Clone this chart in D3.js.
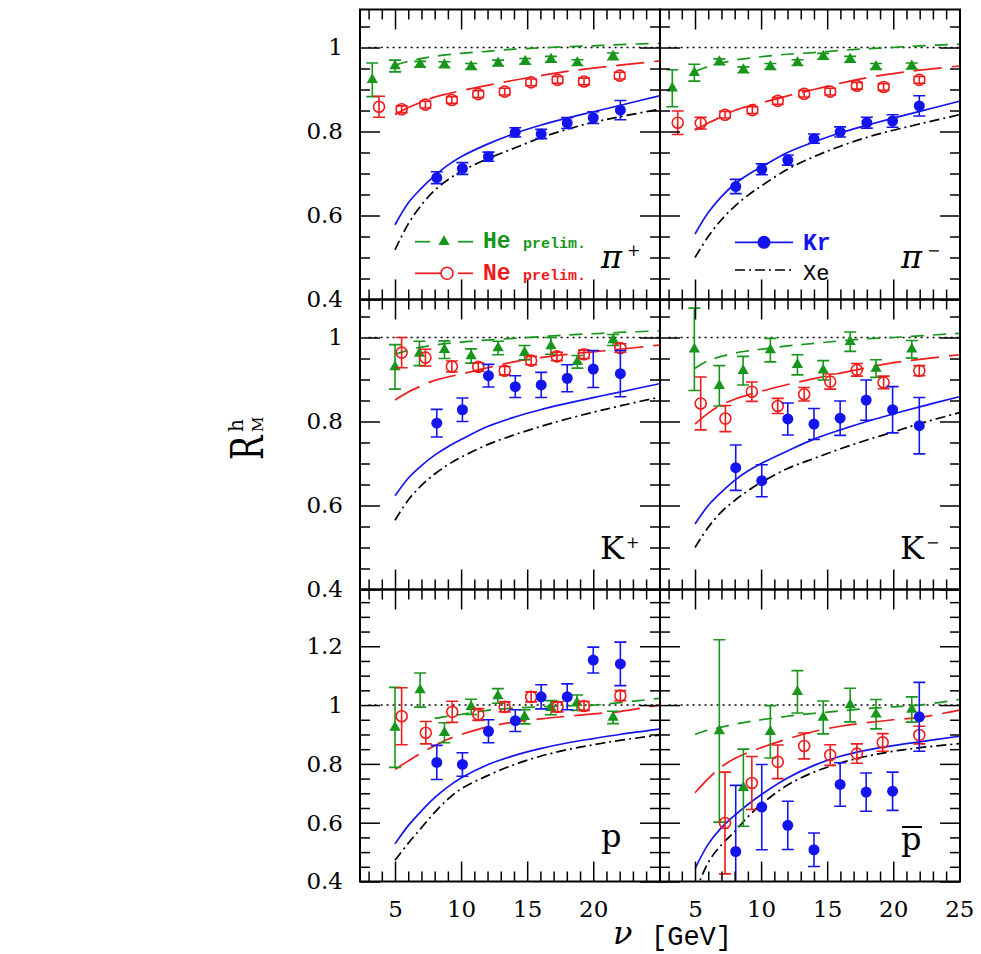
<!DOCTYPE html>
<html><head><meta charset="utf-8">
<script src="https://cdn.jsdelivr.net/npm/d3@7"></script>
<style>body{margin:0;background:#fff}</style>
</head><body>
<svg id="chart" width="981" height="954"></svg>
<script>
// ---------------- DATA ----------------
const nuGrid = [5, 6, 7, 8, 9, 10, 12, 14, 16, 18, 20, 22, 25];
const xTickLabels = [5, 10, 15, 20, 25];
const yTickLabels = [0.4, 0.6, 0.8, 1.0, 1.2];

// pi+
const pipHeNu = [3.28, 5.0, 6.9, 8.74, 10.76, 12.8, 14.85, 16.8, 18.8, 21.5];
const pipHe = [0.923, 0.956, 0.960, 0.959, 0.955, 0.963, 0.967, 0.972, 0.964, 0.979];
const pipHeErr = [0.040, 0.014, 0.007, 0.007, 0.007, 0.007, 0.007, 0.007, 0.007, 0.008];
const pipNeNu = [3.79, 5.5, 7.3, 9.3, 11.3, 13.3, 15.3, 17.3, 19.3, 22.0];
const pipNe = [0.859, 0.853, 0.864, 0.875, 0.889, 0.895, 0.917, 0.923, 0.919, 0.933];
const pipNeErr = [0.025, 0.008, 0.008, 0.008, 0.008, 0.008, 0.008, 0.008, 0.008, 0.008];
const pipKrNu = [8.16, 10.1, 12.07, 14.1, 16.06, 18.03, 20.0, 22.05];
const pipKr = [0.690, 0.712, 0.740, 0.798, 0.794, 0.820, 0.833, 0.851];
const pipKrErr = [0.014, 0.014, 0.011, 0.011, 0.011, 0.013, 0.014, 0.023];
const pipHeTh = [0.958, 0.967, 0.974, 0.979, 0.983, 0.986, 0.991, 0.996, 0.999, 1.002, 1.004, 1.007, 1.010];
const pipNeTh = [0.840, 0.857, 0.870, 0.882, 0.890, 0.897, 0.910, 0.922, 0.933, 0.943, 0.951, 0.958, 0.968];
const pipKrTh = [0.578, 0.630, 0.665, 0.695, 0.720, 0.740, 0.770, 0.795, 0.815, 0.832, 0.847, 0.862, 0.885];
const pipXeTh = [0.518, 0.580, 0.625, 0.660, 0.685, 0.705, 0.735, 0.760, 0.785, 0.805, 0.822, 0.835, 0.853];

// pi-
const pimHeNu = [3.28, 4.95, 6.84, 8.66, 10.7, 12.75, 14.7, 16.74, 18.69, 21.4];
const pimHe = [0.903, 0.940, 0.966, 0.947, 0.955, 0.964, 0.979, 0.972, 0.955, 0.956];
const pimHeErr = [0.044, 0.020, 0.007, 0.007, 0.007, 0.007, 0.007, 0.007, 0.007, 0.007];
const pimNeNu = [3.69, 5.43, 7.27, 9.34, 11.26, 13.26, 15.23, 17.25, 19.27, 21.97];
const pimNe = [0.821, 0.820, 0.840, 0.851, 0.873, 0.890, 0.895, 0.909, 0.906, 0.923];
const pimNeErr = [0.028, 0.014, 0.008, 0.008, 0.008, 0.008, 0.008, 0.008, 0.008, 0.008];
const pimKrNu = [8.08, 10.05, 12.02, 14.0, 15.98, 18.0, 19.95, 21.97];
const pimKr = [0.669, 0.710, 0.732, 0.783, 0.799, 0.821, 0.825, 0.861];
const pimKrErr = [0.017, 0.013, 0.012, 0.011, 0.012, 0.013, 0.015, 0.024];
const pimHeTh = [0.943, 0.955, 0.963, 0.970, 0.974, 0.978, 0.984, 0.988, 0.993, 0.997, 1.000, 1.004, 1.008];
const pimNeTh = [0.803, 0.820, 0.835, 0.850, 0.860, 0.868, 0.885, 0.900, 0.915, 0.928, 0.938, 0.946, 0.956];
const pimKrTh = [0.556, 0.607, 0.645, 0.675, 0.697, 0.715, 0.750, 0.775, 0.797, 0.815, 0.832, 0.848, 0.872];
const pimXeTh = [0.500, 0.550, 0.590, 0.622, 0.648, 0.670, 0.710, 0.740, 0.765, 0.786, 0.803, 0.818, 0.840];

// K+
const kpHeNu = [5.0, 6.85, 8.74, 10.76, 12.8, 14.8, 16.8, 18.8, 21.5];
const kpHe = [0.930, 0.962, 0.971, 0.956, 0.975, 0.964, 0.980, 0.942, 0.994];
const kpHeErr = [0.053, 0.029, 0.021, 0.017, 0.016, 0.017, 0.020, 0.015, 0.013];
const kpNeNu = [5.5, 7.3, 9.3, 11.3, 13.3, 15.3, 17.25, 19.3, 22.05];
const kpNe = [0.964, 0.952, 0.931, 0.930, 0.921, 0.945, 0.955, 0.960, 0.975];
const kpNeErr = [0.036, 0.020, 0.013, 0.010, 0.010, 0.010, 0.010, 0.010, 0.010];
const kpKrNu = [8.16, 10.1, 12.07, 14.1, 16.06, 18.03, 20.0, 22.05];
const kpKr = [0.796, 0.828, 0.909, 0.883, 0.887, 0.903, 0.925, 0.914];
const kpKrErr = [0.033, 0.028, 0.027, 0.026, 0.030, 0.032, 0.044, 0.055];
const kpHeTh = [0.960, 0.970, 0.977, 0.982, 0.986, 0.989, 0.994, 0.998, 1.002, 1.006, 1.009, 1.012, 1.016];
const kpNeTh = [0.851, 0.870, 0.885, 0.898, 0.906, 0.913, 0.928, 0.942, 0.952, 0.960, 0.966, 0.972, 0.982];
const kpKrTh = [0.623, 0.665, 0.695, 0.720, 0.740, 0.757, 0.788, 0.810, 0.828, 0.843, 0.857, 0.870, 0.890];
const kpXeTh = [0.565, 0.613, 0.648, 0.675, 0.697, 0.715, 0.745, 0.768, 0.788, 0.806, 0.822, 0.837, 0.858];

// K-
const kmHeNu = [4.95, 6.84, 8.64, 10.7, 12.75, 14.7, 16.74, 18.7, 21.4];
const kmHe = [0.972, 0.885, 0.921, 0.970, 0.935, 0.922, 0.990, 0.926, 0.972];
const kmHeErr = [0.098, 0.048, 0.034, 0.028, 0.024, 0.023, 0.023, 0.021, 0.021];
const kmNeNu = [5.43, 7.3, 9.3, 11.26, 13.26, 15.23, 17.25, 19.27, 21.97];
const kmNe = [0.843, 0.807, 0.871, 0.837, 0.865, 0.895, 0.923, 0.893, 0.921];
const kmNeErr = [0.063, 0.031, 0.023, 0.018, 0.016, 0.018, 0.015, 0.015, 0.012];
const kmKrNu = [8.08, 10.05, 12.02, 14.0, 15.98, 17.95, 19.95, 21.97];
const kmKr = [0.690, 0.659, 0.806, 0.794, 0.808, 0.851, 0.828, 0.790];
const kmKrErr = [0.054, 0.038, 0.038, 0.037, 0.041, 0.048, 0.055, 0.067];
const kmHeTh = [0.927, 0.945, 0.955, 0.963, 0.968, 0.972, 0.980, 0.986, 0.992, 0.997, 1.000, 1.004, 1.010];
const kmNeTh = [0.794, 0.820, 0.840, 0.853, 0.863, 0.872, 0.888, 0.902, 0.915, 0.928, 0.940, 0.948, 0.959];
const kmKrTh = [0.556, 0.600, 0.632, 0.660, 0.682, 0.700, 0.730, 0.758, 0.780, 0.800, 0.818, 0.835, 0.859];
const kmXeTh = [0.500, 0.548, 0.585, 0.612, 0.635, 0.655, 0.688, 0.712, 0.735, 0.756, 0.775, 0.795, 0.821];

// p
const pHeNu = [5.0, 6.9, 8.74, 10.76, 12.78, 14.8, 16.8, 18.77, 21.5];
const pHe = [0.924, 1.051, 0.906, 0.994, 1.031, 0.960, 0.991, 1.008, 0.958];
const pHeErr = [0.136, 0.058, 0.034, 0.026, 0.025, 0.024, 0.024, 0.026, 0.021];
const pNeNu = [5.5, 7.33, 9.33, 11.3, 13.3, 15.3, 17.3, 19.3, 22.05];
const pNe = [0.962, 0.906, 0.977, 0.968, 0.994, 1.028, 0.994, 0.997, 1.032];
const pNeErr = [0.097, 0.038, 0.036, 0.020, 0.017, 0.017, 0.017, 0.015, 0.017];
const pKrNu = [8.16, 10.1, 12.07, 14.1, 16.06, 18.03, 20.0, 22.05];
const pKr = [0.805, 0.798, 0.911, 0.947, 1.028, 1.028, 1.153, 1.140];
const pKrErr = [0.058, 0.040, 0.039, 0.037, 0.041, 0.044, 0.044, 0.074];
const pHeTh = [null, null, null, 0.955, 0.962, 0.968, 0.982, 0.990, 0.994, 0.997, 1.000, 1.008, 1.023];
const pNeTh = [0.781, 0.810, 0.837, 0.862, 0.884, 0.900, 0.926, 0.942, 0.953, 0.962, 0.970, 0.978, 1.000];
const pKrTh = [0.528, 0.590, 0.640, 0.685, 0.722, 0.752, 0.797, 0.828, 0.852, 0.871, 0.886, 0.900, 0.918];
const pXeTh = [0.472, 0.530, 0.583, 0.635, 0.680, 0.715, 0.760, 0.797, 0.826, 0.848, 0.865, 0.880, 0.898];

// p-bar
const pbHeNu = [6.84, 8.66, 10.7, 12.75, 14.7, 16.74, 18.7, 21.4];
const pbHe = [0.912, 0.719, 0.909, 1.045, 0.958, 1.000, 0.969, 0.985];
const pbHeErr = [0.310, 0.131, 0.089, 0.072, 0.056, 0.057, 0.050, 0.043];
const pbNeNu = [7.27, 9.3, 11.26, 13.26, 15.23, 17.25, 19.2, 21.97];
const pbNe = [0.599, 0.735, 0.807, 0.861, 0.830, 0.835, 0.873, 0.898];
const pbNeErr = [0.173, 0.090, 0.057, 0.044, 0.035, 0.033, 0.030, 0.030];
const pbKrNu = [8.08, 10.05, 12.02, 14.0, 15.98, 17.95, 19.95, 21.97];
const pbKr = [0.502, 0.653, 0.591, 0.508, 0.730, 0.704, 0.707, 0.960];
const pbKrErr = [0.225, 0.145, 0.082, 0.057, 0.074, 0.065, 0.065, 0.117];
const pbHeTh = [0.900, 0.915, 0.925, 0.935, 0.943, 0.950, 0.962, 0.972, 0.980, 0.988, 0.994, 1.000, 1.019];
const pbNeTh = [0.702, 0.750, 0.790, 0.818, 0.838, 0.855, 0.885, 0.910, 0.928, 0.940, 0.950, 0.958, 0.983];
const pbKrTh = [0.443, 0.527, 0.583, 0.625, 0.662, 0.695, 0.752, 0.795, 0.826, 0.847, 0.862, 0.875, 0.894];
const pbXeTh = [0.360, 0.465, 0.525, 0.570, 0.620, 0.662, 0.728, 0.772, 0.803, 0.826, 0.843, 0.855, 0.869];

// ---------------- LAYOUT ----------------
const colX = [360, 660];
const panelW = 300;
const rowY = [9.5, 299.5, 589.5];
const rowH = [290, 290, 292];
const yDomains = [[0.4, 1.0905], [0.4, 1.0905], [0.4, 1.393]];
const xDomain = [2.35, 25.05];

const cHe = "#17961b", cNe = "#ee1c1c", cKr = "#1414ee", cXe = "#000";

const panels = [
  {id:"pip", row:0, col:0, he:[pipHeNu,pipHe,pipHeErr], ne:[pipNeNu,pipNe,pipNeErr], kr:[pipKrNu,pipKr,pipKrErr], th:[pipHeTh,pipNeTh,pipKrTh,pipXeTh]},
  {id:"pim", row:0, col:1, he:[pimHeNu,pimHe,pimHeErr], ne:[pimNeNu,pimNe,pimNeErr], kr:[pimKrNu,pimKr,pimKrErr], th:[pimHeTh,pimNeTh,pimKrTh,pimXeTh]},
  {id:"kp", row:1, col:0, he:[kpHeNu,kpHe,kpHeErr], ne:[kpNeNu,kpNe,kpNeErr], kr:[kpKrNu,kpKr,kpKrErr], th:[kpHeTh,kpNeTh,kpKrTh,kpXeTh]},
  {id:"km", row:1, col:1, he:[kmHeNu,kmHe,kmHeErr], ne:[kmNeNu,kmNe,kmNeErr], kr:[kmKrNu,kmKr,kmKrErr], th:[kmHeTh,kmNeTh,kmKrTh,kmXeTh]},
  {id:"p", row:2, col:0, he:[pHeNu,pHe,pHeErr], ne:[pNeNu,pNe,pNeErr], kr:[pKrNu,pKr,pKrErr], th:[pHeTh,pNeTh,pKrTh,pXeTh]},
  {id:"pb", row:2, col:1, he:[pbHeNu,pbHe,pbHeErr], ne:[pbNeNu,pbNe,pbNeErr], kr:[pbKrNu,pbKr,pbKrErr], th:[pbHeTh,pbNeTh,pbKrTh,pbXeTh]}
];

const svg = d3.select("#chart");
const defs = svg.append("defs");
const fmt = v => String(Math.round(v * 10) / 10);

const curveStyles = [
  {color:cHe, dash:"13,9"},
  {color:cNe, dash:"28,10"},
  {color:cKr, dash:null},
  {color:cXe, dash:"10,4,2,4"}
];

panels.forEach(p => {
  const x0 = colX[p.col], y0 = rowY[p.row], h = rowH[p.row];
  const x = d3.scaleLinear().domain(xDomain).range([x0, x0 + panelW]);
  const y = d3.scaleLinear().domain(yDomains[p.row]).range([y0 + h, y0]);

  defs.append("clipPath").attr("id", "clip-" + p.id)
    .append("rect").attr("x", x0).attr("y", y0).attr("width", panelW).attr("height", h);
  const g = svg.append("g").attr("clip-path", `url(#clip-${p.id})`);

  // dotted unity line
  g.append("line").attr("x1", x(3)).attr("x2", x(25.05)).attr("y1", y(1)).attr("y2", y(1))
    .attr("stroke", "#000").attr("stroke-width", 1.5).attr("stroke-dasharray", "2,4");

  // theory curves
  p.th.forEach((vals, i) => {
    const line = d3.line().defined(d => d[1] != null)
      .x(d => x(d[0])).y(d => y(d[1])).curve(d3.curveCatmullRom.alpha(0.5));
    const path = g.append("path").datum(nuGrid.map((n, k) => [n, vals[k]]))
      .attr("d", line).attr("fill", "none")
      .attr("stroke", curveStyles[i].color).attr("stroke-width", 1.7);
    if (curveStyles[i].dash) path.attr("stroke-dasharray", curveStyles[i].dash);
  });

  // error bars + markers
  const series = [[p.he, cHe, "tri"], [p.ne, cNe, "open"], [p.kr, cKr, "dot"]];
  series.forEach(([arr, col, kind]) => {
    const [nu, v, e] = arr;
    nu.forEach((n, k) => {
      const cx = x(n), lo = y(v[k] - e[k]), hi = y(v[k] + e[k]);
      g.append("line").attr("x1", cx).attr("x2", cx).attr("y1", lo).attr("y2", hi)
        .attr("stroke", col).attr("stroke-width", 1.6);
      [lo, hi].forEach(yy => g.append("line").attr("x1", cx - 6).attr("x2", cx + 6)
        .attr("y1", yy).attr("y2", yy).attr("stroke", col).attr("stroke-width", 1.6));
    });
    nu.forEach((n, k) => {
      const cx = x(n), cy = y(v[k]);
      if (kind === "tri") {
        g.append("path").attr("d", d3.symbol(d3.symbolTriangle, 55)())
          .attr("transform", `translate(${cx},${cy})`).attr("fill", col);
      } else if (kind === "open") {
        g.append("circle").attr("cx", cx).attr("cy", cy).attr("r", 5.5)
          .attr("fill", "none").attr("stroke", col).attr("stroke-width", 1.6);
      } else {
        g.append("circle").attr("cx", cx).attr("cy", cy).attr("r", 5.5).attr("fill", col);
      }
    });
  });

  // axes (inward ticks)
  const top = yDomains[p.row][1];
  const yMinor = d3.range(8, Math.floor(top / 0.05 + 1e-6) + 1).map(i => +(i * 0.05).toFixed(2))
    .filter(v => Math.round(v * 100) % 20 !== 0);
  const yMajor = yTickLabels.filter(v => v <= top);
  const xMinor = d3.range(3, 26).filter(v => v % 5 !== 0);

  const style = sel => {
    sel.select(".domain").remove();
    sel.selectAll("line").attr("stroke", "#000").attr("stroke-width", 1.5);
    sel.attr("font-family", "DejaVu Serif").attr("font-size", 23);
    sel.selectAll("text").attr("fill", "#000");
  };
  const bottomRow = p.row === 2, leftCol = p.col === 0;

  svg.append("g").attr("transform", `translate(0,${y0 + h})`)
    .call(d3.axisBottom(x).tickValues(xMinor).tickSize(-10).tickFormat("")).call(style);
  svg.append("g").attr("transform", `translate(0,${y0 + h})`)
    .call(d3.axisBottom(x).tickValues(xTickLabels).tickSize(-20).tickPadding(19)
      .tickFormat(v => bottomRow && !(leftCol && v === 25) ? v : "")).call(style);
  svg.append("g").attr("transform", `translate(0,${y0})`)
    .call(d3.axisTop(x).tickValues(xMinor).tickSize(-10).tickFormat("")).call(style);
  svg.append("g").attr("transform", `translate(0,${y0})`)
    .call(d3.axisTop(x).tickValues(xTickLabels).tickSize(-20).tickFormat("")).call(style);

  svg.append("g").attr("transform", `translate(${x0},0)`)
    .call(d3.axisLeft(y).tickValues(yMinor).tickSize(-10).tickFormat("")).call(style);
  svg.append("g").attr("transform", `translate(${x0},0)`)
    .call(d3.axisLeft(y).tickValues(yMajor).tickSize(-20).tickPadding(17)
      .tickFormat(v => leftCol ? fmt(v) : "")).call(style);
  svg.append("g").attr("transform", `translate(${x0 + panelW},0)`)
    .call(d3.axisRight(y).tickValues(yMinor).tickSize(-10).tickFormat("")).call(style);
  svg.append("g").attr("transform", `translate(${x0 + panelW},0)`)
    .call(d3.axisRight(y).tickValues(yMajor).tickSize(-20).tickFormat("")).call(style);

  // frame
  svg.append("rect").attr("x", x0).attr("y", y0).attr("width", panelW).attr("height", h)
    .attr("fill", "none").attr("stroke", "#000").attr("stroke-width", 2);
});

// ---------------- PANEL LABELS ----------------
const serif = "DejaVu Serif";
function label(xp, yb, main, sup, italic, supDy) {
  svg.append("text").attr("x", xp).attr("y", yb).attr("font-family", serif)
    .attr("font-size", 32).attr("font-style", italic ? "italic" : "normal").text(main);
  if (sup) svg.append("text").attr("x", xp + 26).attr("y", yb - supDy).attr("font-family", serif)
    .attr("font-size", 16).text(sup);
}
label(601, 268, "π", "+", true, 12);
label(901, 268, "π", "−", true, 12);
label(600, 559, "K", "+", false, 11);
label(900, 559, "K", "−", false, 11);
label(601, 847, "p", null, false, 0);
label(901, 850, "p", null, false, 0);
svg.append("line").attr("x1", 902).attr("x2", 922).attr("y1", 827).attr("y2", 827)
  .attr("stroke", "#000").attr("stroke-width", 2);

// ---------------- LEGENDS ----------------
const mono = "Liberation Mono";
// He
svg.append("line").attr("x1", 415).attr("x2", 430).attr("y1", 241.7).attr("y2", 241.7).attr("stroke", cHe).attr("stroke-width", 1.7);
svg.append("line").attr("x1", 458).attr("x2", 473).attr("y1", 241.7).attr("y2", 241.7).attr("stroke", cHe).attr("stroke-width", 1.7);
svg.append("path").attr("d", d3.symbol(d3.symbolTriangle, 55)()).attr("transform", "translate(444,241.7)").attr("fill", cHe);
svg.append("text").attr("x", 483).attr("y", 248).attr("font-family", mono).attr("font-weight", "bold").attr("font-size", 23).attr("fill", cHe).text("He");
svg.append("text").attr("x", 523).attr("y", 248).attr("font-family", mono).attr("font-weight", "bold").attr("font-size", 15).attr("fill", cHe).text("prelim.");
// Ne
svg.append("line").attr("x1", 415).attr("x2", 441).attr("y1", 273.3).attr("y2", 273.3).attr("stroke", cNe).attr("stroke-width", 1.7);
svg.append("line").attr("x1", 458).attr("x2", 473).attr("y1", 273.3).attr("y2", 273.3).attr("stroke", cNe).attr("stroke-width", 1.7);
svg.append("circle").attr("cx", 447).attr("cy", 273.3).attr("r", 6).attr("fill", "none").attr("stroke", cNe).attr("stroke-width", 1.6);
svg.append("text").attr("x", 483).attr("y", 280).attr("font-family", mono).attr("font-weight", "bold").attr("font-size", 23).attr("fill", cNe).text("Ne");
svg.append("text").attr("x", 523).attr("y", 280).attr("font-family", mono).attr("font-weight", "bold").attr("font-size", 15).attr("fill", cNe).text("prelim.");
// Kr
svg.append("line").attr("x1", 735).attr("x2", 793).attr("y1", 242.3).attr("y2", 242.3).attr("stroke", cKr).attr("stroke-width", 1.7);
svg.append("circle").attr("cx", 764).attr("cy", 242.3).attr("r", 6.5).attr("fill", cKr);
svg.append("text").attr("x", 803).attr("y", 250).attr("font-family", mono).attr("font-weight", "bold").attr("font-size", 23).attr("fill", cKr).text("Kr");
// Xe
svg.append("line").attr("x1", 735).attr("x2", 793).attr("y1", 270).attr("y2", 270).attr("stroke", cXe).attr("stroke-width", 1.7).attr("stroke-dasharray", "10,4,2,4");
svg.append("text").attr("x", 803).attr("y", 280).attr("font-family", mono).attr("font-size", 22).attr("fill", cXe).text("Xe");

// ---------------- AXIS TITLES ----------------
svg.append("text").attr("transform", "translate(263,460) rotate(-90) scale(0.72,1)")
  .attr("font-family", serif).attr("font-size", 45).text("R");
svg.append("text").attr("transform", "translate(243,432) rotate(-90)")
  .attr("font-family", serif).attr("font-size", 20).text("h");
svg.append("text").attr("transform", "translate(263,432) rotate(-90)")
  .attr("font-family", serif).attr("font-size", 15).text("M");

svg.append("text").attr("x", 613).attr("y", 944).attr("font-family", serif)
  .attr("font-style", "italic").attr("font-size", 32).text("ν");
svg.append("text").attr("x", 651).attr("y", 945).attr("font-family", mono)
  .attr("font-size", 27).text("[GeV]");
</script>
</body></html>
